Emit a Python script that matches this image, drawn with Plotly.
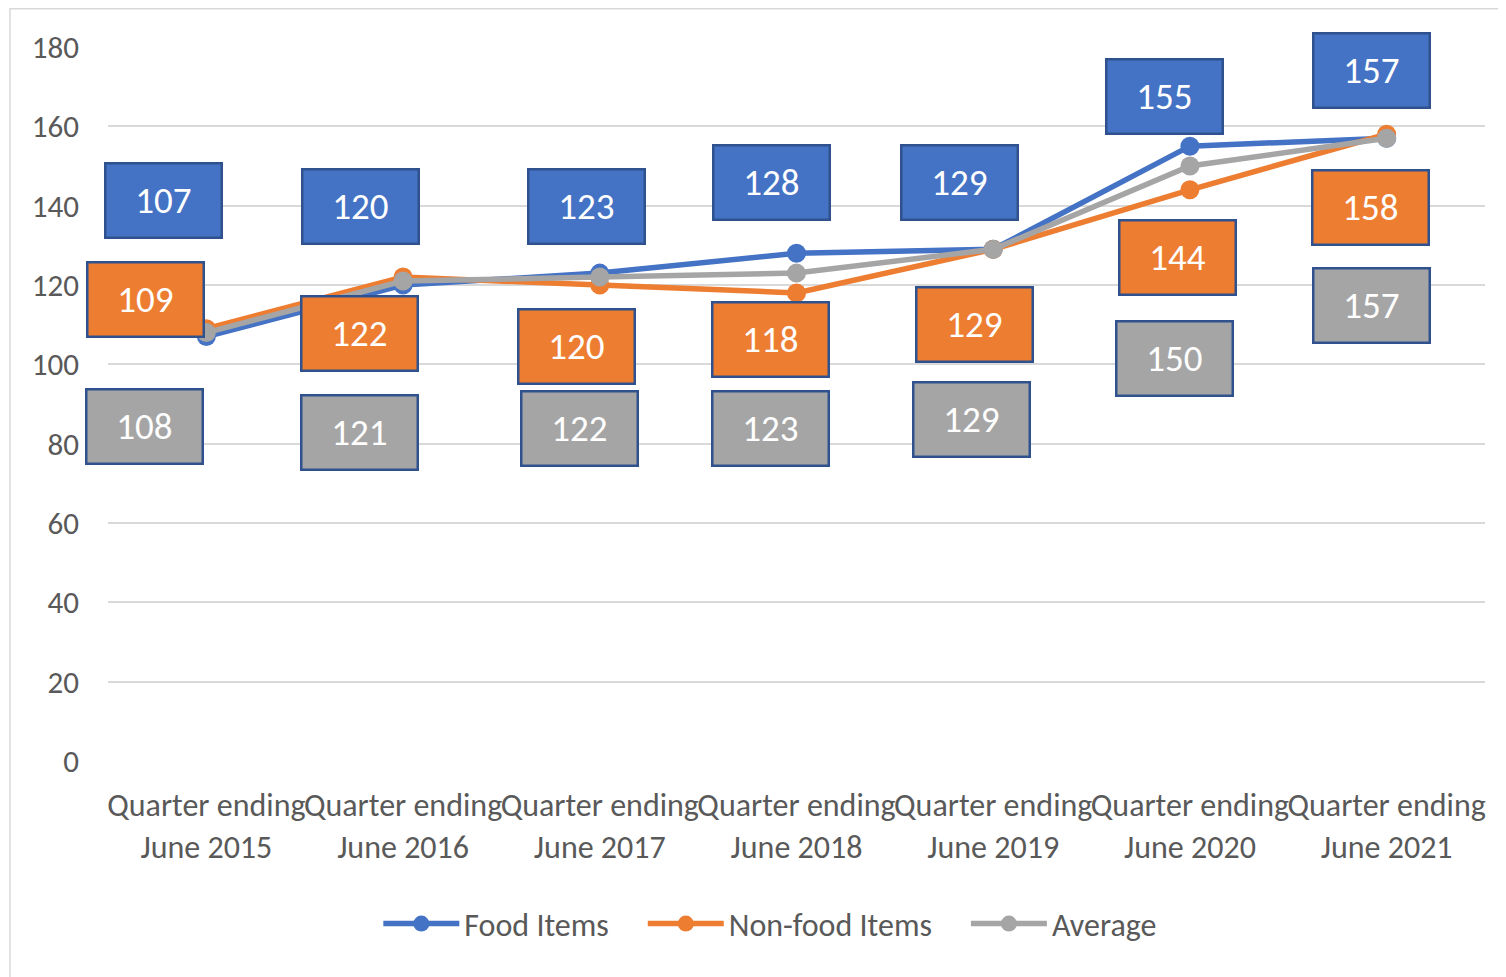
import plotly.graph_objects as go

categories = ["Quarter ending<br>June 2015", "Quarter ending<br>June 2016", "Quarter ending<br>June 2017",
              "Quarter ending<br>June 2018", "Quarter ending<br>June 2019", "Quarter ending<br>June 2020",
              "Quarter ending<br>June 2021"]
food = [107, 120, 123, 128, 129, 155, 157]
nonfood = [109, 122, 120, 118, 129, 144, 158]
average = [108, 121, 122, 123, 129, 150, 157]
y_ticks = [0, 20, 40, 60, 80, 100, 120, 140, 160, 180]

# label box offsets (pixels) relative to each data point
food_dx = [-43, -43, -13, -25, -34, -25, -15]
food_dy = [136, 79, 67, 71, 67, 50, 68]
non_dx = [-61, -44, -23, -26, -19, -12, -16]
non_dy = [29, -56, -61, -47, -75, -68, -73]
avg_dx = [-62, -44, -20, -26, -22, -15, -15]
avg_dy = [-94, -151, -151, -155, -170, -192, -167]

FONT = "Carlito, Lato, 'Liberation Sans', sans-serif"
NB = "\u00a0"
series = [
    ("Food Items" + NB * 4, food, "#4472C4", food_dx, food_dy),
    ("Non-food Items" + NB * 4, nonfood, "#ED7D31", non_dx, non_dy),
    ("Average", average, "#A5A5A5", avg_dx, avg_dy),
]

fig = go.Figure()
for name, vals, col, _, _ in series:
    fig.add_trace(go.Scatter(
        x=categories, y=vals, name=name, mode="lines+markers",
        line=dict(color=col, width=5.5),
        marker=dict(color=col, size=19),
    ))

annotations = []
for name, vals, col, dxs, dys in series:
    for c, v, dx, dy in zip(categories, vals, dxs, dys):
        annotations.append(dict(
            x=c, y=v, xref="x", yref="y", text=str(v), showarrow=False,
            xshift=dx, yshift=dy,
            font=dict(family=FONT, size=37, color="white"),
            bgcolor=col, bordercolor="#2F528F", borderwidth=2.5, borderpad=2,
            width=110, height=68, align="center", valign="middle",
        ))

fig.update_layout(
    width=1498, height=969,
    margin=dict(l=100, r=21, t=39, b=216, autoexpand=False),
    paper_bgcolor="white", plot_bgcolor="white",
    font=dict(family=FONT, color="#595959", size=30),
    showlegend=True,
    legend=dict(orientation="h", x=0.481, xanchor="center", y=-0.228, yanchor="middle",
                font=dict(family=FONT, size=32, color="#595959"), itemwidth=76,
                traceorder="normal"),
    annotations=annotations,
    shapes=[dict(type="rect", xref="paper", yref="paper",
                 x0=-0.0712, x1=1.05, y0=-0.4, y1=1.0535,
                 line=dict(color="#D9D9D9", width=1.5), fillcolor="rgba(0,0,0,0)", layer="below")],
)
fig.update_yaxes(range=[0, 180], tickvals=y_ticks, showgrid=True, gridcolor="#D9D9D9", gridwidth=2,
                 zeroline=False, showline=False, ticks="", ticklabelstandoff=28, automargin=False,
                 tickfont=dict(family=FONT, size=31, color="#595959"))
fig.update_xaxes(type="category", range=[-0.5, 6.5], showgrid=False, zeroline=False, showline=False,
                 ticks="", ticklabelstandoff=22, tickangle=0, automargin=False,
                 tickfont=dict(family=FONT, size=32, color="#595959"))

fig.write_html("out.html")
